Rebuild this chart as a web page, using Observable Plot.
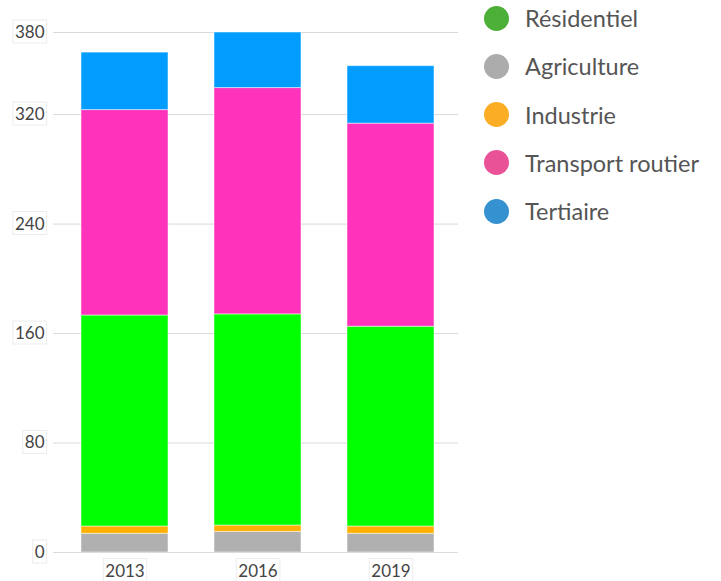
<!DOCTYPE html>
<html>
<head>
<meta charset="utf-8">
<script src="https://cdn.jsdelivr.net/npm/d3@7"></script>
<script src="https://cdn.jsdelivr.net/npm/@observablehq/plot@0.6"></script>
<style>
  body { margin: 0; background: #fff; font-family: Lato, "Open Sans", sans-serif; }
  #wrap { position: relative; width: 721px; height: 581px; }
  #legend { position: absolute; left: 484px; top: -6px; }
  .item { display: flex; align-items: center; height: 48.25px; }
  .dot { width: 25px; height: 25px; border-radius: 50%; margin-right: 16px; flex: none; }
  .lab { font-size: 23.5px; color: #555; white-space: nowrap; }
</style>
</head>
<body>
<div id="wrap"><div id="chart"></div><div id="legend"></div></div>
<script>
const years = ["2013", "2016", "2019"];
const sectors = ["Agriculture", "Industrie", "Résidentiel", "Transport routier", "Tertiaire"];
const agriculture = [13.7, 15.1, 13.7];
const industrie = [5.3, 4.6, 5.3];
const residentiel = [154.2, 154.3, 146.0];
const transport = [150.1, 165.4, 148.4];
const tertiaire = [42.0, 40.6, 42.0];
const yTicks = [0, 80, 160, 240, 320, 380];
const barColors = ["#b0b0b0", "#ffb000", "#00ff00", "#ff33bb", "#039cff"];
const legendOrder = ["Résidentiel", "Agriculture", "Industrie", "Transport routier", "Tertiaire"];
const legendColors = ["#4caf37", "#acacac", "#fbae25", "#e95297", "#3691d1"];

const series = [agriculture, industrie, residentiel, transport, tertiaire];
const data = [];
years.forEach((y, i) => sectors.forEach((s, j) => data.push({year: y, sector: s, value: series[j][i]})));

const chart = Plot.plot({
  width: 470,
  height: 581,
  marginLeft: 57,
  marginRight: 12,
  marginTop: 32,
  marginBottom: 29,
  style: {fontFamily: "Lato, 'Open Sans', sans-serif", fontSize: "17px", color: "#444"},
  x: {domain: years, paddingInner: 0.345, paddingOuter: 0.1725, label: null},
  y: {domain: [0, 380], label: null},
  color: {domain: sectors, range: barColors},
  marks: [
    Plot.gridY(yTicks, {stroke: "#d9d9d9", strokeOpacity: 1}),
    Plot.ruleX([0], {frameAnchor: "left", x: null, stroke: "#e6e6e6", y1: 0, y2: 380}),
    Plot.barY(data, Plot.stackY({order: sectors}, {x: "year", y: "value", z: "sector", fill: "sector", stroke: "#ffffff", strokeOpacity: 0.5, strokeWidth: 1})),
    Plot.ruleY([0], {stroke: "#dcdcdc"}),
    Plot.axisY(yTicks, {tickSize: 4, tickPadding: 9, stroke: "#d9d9d9", fontSize: 17, fill: "#444"}),
    Plot.axisX({tickSize: 0, tickPadding: 12, fontSize: 17, fill: "#444"})
  ]
});
document.getElementById("chart").appendChild(chart);

// faint label boxes around tick labels
chart.querySelectorAll("g[aria-label='y-axis tick label'] text, g[aria-label='x-axis tick label'] text").forEach(t => {
  const b = t.getBBox();
  const r = document.createElementNS("http://www.w3.org/2000/svg", "rect");
  r.setAttribute("x", b.x - 2);
  r.setAttribute("y", b.y - 1);
  r.setAttribute("width", b.width + 4);
  r.setAttribute("height", b.height + 2);
  r.setAttribute("fill", "none");
  r.setAttribute("stroke", "#ececec");
  const tr = t.getAttribute("transform");
  if (tr) r.setAttribute("transform", tr);
  t.parentNode.insertBefore(r, t);
});

const legend = document.getElementById("legend");
legendOrder.forEach((s, i) => {
  const d = document.createElement("div");
  d.className = "item";
  d.innerHTML = `<span class="dot" style="background:${legendColors[i]}"></span><span class="lab">${s}</span>`;
  legend.appendChild(d);
});
</script>
</body>
</html>
